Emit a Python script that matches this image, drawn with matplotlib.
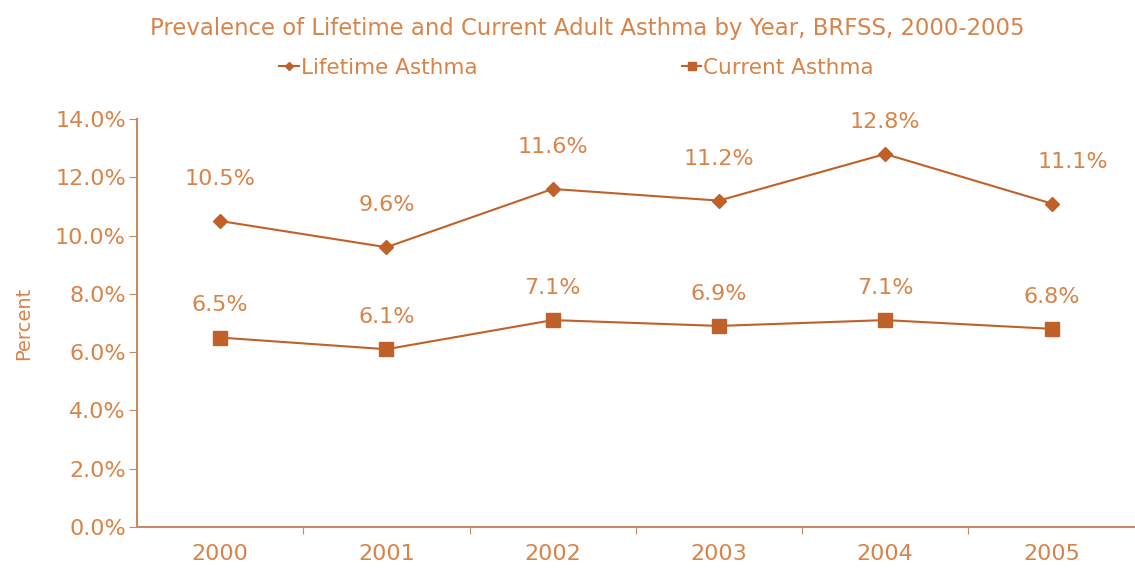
import matplotlib.pyplot as plt
from matplotlib.ticker import FuncFormatter

years = ["2000", "2001", "2002", "2003", "2004", "2005"]
lifetime = [10.5, 9.6, 11.6, 11.2, 12.8, 11.1]
current = [6.5, 6.1, 7.1, 6.9, 7.1, 6.8]
yticks = [0, 2, 4, 6, 8, 10, 12, 14]

LINE = "#c0612a"
TEXT = "#d98348"
AXIS = "#c98a63"

plt.rcParams["font.family"] = ["DejaVu Sans"]

fig = plt.figure(figsize=(11.35, 5.73), dpi=100)
ax = fig.add_axes([0.1207, 0.0803, 0.879, 0.712])

x = list(range(len(years)))
ax.plot(x, lifetime, color=LINE, lw=1.5, marker="D", ms=7, label="Lifetime Asthma")
ax.plot(x, current, color=LINE, lw=1.5, marker="s", ms=9.5, label="Current Asthma")

# value labels
for i, v in enumerate(lifetime):
    dx = 0.13 if i == len(years) - 1 else 0
    dy = 16 if i == 4 else 23
    ax.annotate(f"{v:.1f}%", (i + dx, v), xytext=(0, dy), textcoords="offset points",
                ha="center", va="bottom", color=TEXT, fontsize=16)
for i, v in enumerate(current):
    ax.annotate(f"{v:.1f}%", (i, v), xytext=(0, 16), textcoords="offset points",
                ha="center", va="bottom", color=TEXT, fontsize=16)

ax.set_xlim(-0.5, len(years) - 0.5)
ax.set_ylim(0, 14)
ax.set_yticks(yticks)
ax.yaxis.set_major_formatter(FuncFormatter(lambda v, p: f"{v:.1f}%"))
ax.set_xticks([i + 0.5 for i in range(len(years) - 1)])
ax.set_xticklabels([])
ax.set_xticks(x, minor=True)
ax.set_xticklabels(years, minor=True)
ax.tick_params(axis="x", which="minor", length=0, pad=12, labelsize=16, labelcolor=TEXT)
ax.tick_params(axis="x", which="major", length=5, color=AXIS, direction="out")
ax.tick_params(axis="y", length=6, color=AXIS, labelsize=16, labelcolor=TEXT, pad=2)

for s in ["top", "right"]:
    ax.spines[s].set_visible(False)
for s in ["left", "bottom"]:
    ax.spines[s].set_color(AXIS)
    ax.spines[s].set_linewidth(1.5)

ax.set_ylabel("Percent", color=TEXT, fontsize=14, labelpad=16)

fig.text(0.517, 0.95, "Prevalence of Lifetime and Current Adult Asthma by Year, BRFSS, 2000-2005",
         ha="center", va="center", color=TEXT, fontsize=16.4)
fig.legend(loc="center", bbox_to_anchor=(0.508, 0.882), ncol=2, frameon=False,
           fontsize=15.5, labelcolor=TEXT, handlelength=0.9, handletextpad=0.1,
           columnspacing=9.5, markerscale=0.6)

fig.savefig("out.png", dpi=100)
